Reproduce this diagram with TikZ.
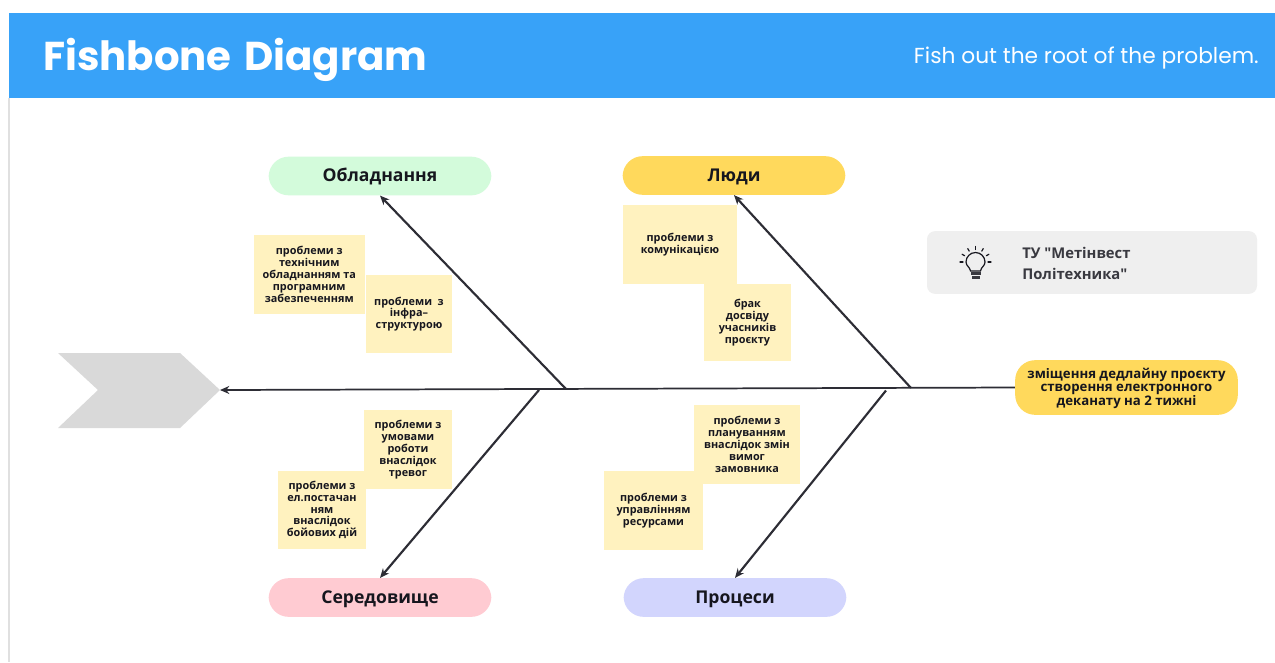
\documentclass[tikz,border=0pt]{standalone}
\usepackage{fontspec}
\setmainfont{Open Sans}
\newfontfamily\titlefont{Poppins}
\newfontfamily\infofont{Open Sans}
\usetikzlibrary{arrows.meta,calc}
\definecolor{hdr}{HTML}{38A2F8}
\definecolor{stick}{HTML}{FFF2BF}
\definecolor{amber}{HTML}{FFD95C}
\definecolor{mint}{HTML}{D3FBDB}
\definecolor{rose}{HTML}{FFCBD2}
\definecolor{lav}{HTML}{D2D5FD}
\definecolor{infobg}{HTML}{EFEFEF}
\definecolor{chev}{HTML}{D9D9D9}
\definecolor{ink}{HTML}{16161E}
\tikzset{
  pill/.style={rounded corners=15pt,minimum width=167pt,minimum height=29pt,inner sep=0pt,
    text height=9.5pt,text depth=1pt,
    font=\bfseries\fontsize{13.2}{15}\selectfont,text=ink},
  sticky/.style={fill=stick,inner sep=0pt,align=center,text=ink,
    font=\bfseries\fontsize{8.15}{8.9}\selectfont},
  bone/.style={draw=ink!90,line width=1.6pt,-{Stealth[length=7pt,width=6pt]}},
  spine/.style={draw=ink!90,line width=1.3pt,-{Stealth[length=7pt,width=6pt]}},
}
\newcommand{\stickybox}[6]{% name, x0,y0,x1,y1, text
  \path let \n1={#4-#2},\n2={#5-#3} in
    node[sticky,minimum width=0.75pt*\n1,minimum height=0.75pt*\n2] (#1) at ({(#2+#4)/2},{(#3+#5)/2}) {#6};
}
\begin{document}
\begin{tikzpicture}[x=0.75pt,y=-0.75pt]
\useasboundingbox (0,0) rectangle (1275,662);
\fill[white] (0,0) rectangle (1275,662);
\draw[draw=black!12,line width=0.8pt] (9,98) -- (9,662);
\fill[hdr] (9,13) rectangle (1275,98);
\node[anchor=west,inner sep=0pt,text=white] (title) at (43,60)
  {\titlefont\bfseries\fontsize{30.2}{33}\selectfont Fishbone\hspace{3pt} Diagram};
\node[anchor=east,inner sep=0pt,text=white] (tag) at (1259,58)
  {\titlefont\fontsize{16.3}{19}\selectfont Fish out the root of the problem.};

% fish head chevron
\fill[chev] (58,353) -- (180,353) -- (220,390) -- (180,428) -- (58,428) -- (98,390) -- cycle;
\coordinate (tip) at (220,390);

% category pills
\node[pill,fill=mint] (equip) at (380,176) {Обладнання};
\node[pill,fill=amber] (people) at (734,175.5) {Люди};
\node[pill,fill=rose] (env) at (380,597.5) {Середовище};
\node[pill,fill=lav] (proc) at (735,597.5) {Процеси};

% effect
\node[fill=amber,rounded corners=15pt,minimum width=167pt,minimum height=41pt,inner sep=0pt,
  align=center,text=ink,font=\bfseries\fontsize{9.9}{9.2}\selectfont] (effect) at (1126.5,387.5)
  {\rule{0pt}{9.5pt}зміщення дедлайну проєкту\\створення електронного\\деканату на 2 тижні};

% info box
\node[fill=infobg,rounded corners=6pt,minimum width=247.5pt,minimum height=47pt,inner sep=0pt] (info) at (1092,262.5) {};
\node[anchor=west,inner sep=0pt,align=left,text=ink!85,font=\infofont\bfseries\fontsize{11.1}{15.8}\selectfont] (infotext) at (1022,263)
  {ТУ "Метінвест\\Політехника"};

% bulb icon
\begin{scope}[shift={(975.5,262)},draw=ink,line width=0.9pt,line cap=round]
  \draw (-5,9) .. controls (-5.5,5) and (-9.5,4) .. (-9.5,0) arc[start angle=180,end angle=360,radius=9.5]
        .. controls (9.5,4) and (5.5,5) .. (5,9) -- cycle;
  \fill[ink!85] (-5,10) rectangle (5,13);
  \fill[ink!85] (-4,14) rectangle (4,16.5);
  \foreach \a in {0,30,60,90,120,150,180}
    \draw ({12.5*cos(\a)},{-12.5*sin(\a)}) -- ({15.5*cos(\a)},{-15.5*sin(\a)});
\end{scope}

% sticky notes
\stickybox{s1}{253.5}{235}{365}{314}{проблеми з\\технічним\\обладнанням та\\програмним\\забезпеченням}
\stickybox{s2}{366}{275}{452}{353}{проблеми\ \ з\\інфра–\\структурою}
\stickybox{s3}{623}{205}{737}{284}{проблеми з\\комунікацією}
\stickybox{s4}{704}{284}{791}{361}{брак\\досвіду\\учасників\\проєкту}
\stickybox{s5}{364}{410}{452}{489}{проблеми з\\умовами\\роботи\\внаслідок\\тревог}
\stickybox{s6}{278}{471}{366}{549}{проблеми з\\ел.постачан\\ням\\внаслідок\\бойових дій}
\stickybox{s8}{604}{471}{703}{550}{проблеми з\\управлінням\\ресурсами}
\stickybox{s7}{694}{405}{800}{484}{проблеми з\\плануванням\\внаслідок змін\\вимог\\замовника}

% junctions on the spine
\coordinate (j1) at (911,388);
\coordinate (j2) at (886,390.5);
\coordinate (j3) at (566,389);
\coordinate (j4) at (539,390);

% connectors
\draw[spine] (effect.west) -- (tip);
\draw[bone] (j1) -- (people.south);
\draw[bone] (j2) -- (proc.north);
\draw[bone] (j3) -- (equip.south);
\draw[bone] (j4) -- (env.north);
\end{tikzpicture}
\end{document}
